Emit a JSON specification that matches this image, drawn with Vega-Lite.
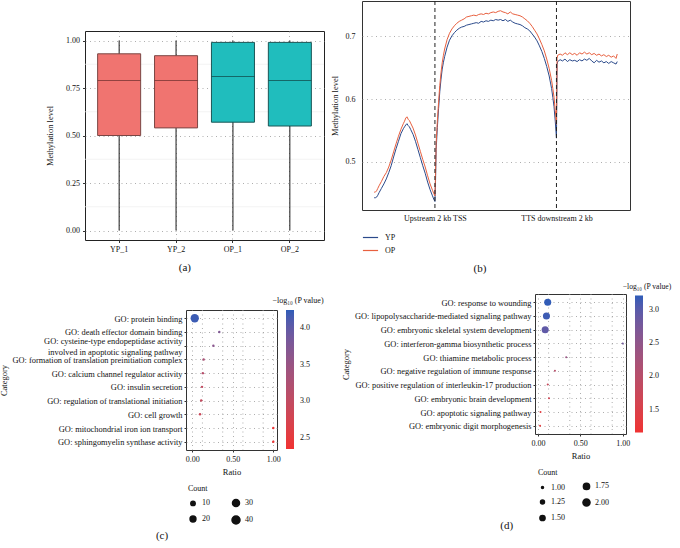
{
  "$schema": "https://vega.github.io/schema/vega-lite/v6.json",
  "padding": {"left": -1, "top": 0, "right": 0, "bottom": 0},
  "background": "white",
  "config": {
    "font": "Liberation Serif",
    "view": {"stroke": null},
    "axis": {"labelFont": "Liberation Serif", "titleFont": "Liberation Serif", "labelFontSize": 8, "titleFontSize": 8.5, "titleFontWeight": "normal", "labelColor": "#111", "titleColor": "#111", "domain": false, "tickColor": "#333", "tickSize": 2.5, "gridColor": "#999", "gridDash": [1, 3.5], "gridWidth": 0.8},
    "legend": {"labelFont": "Liberation Serif", "titleFont": "Liberation Serif", "labelFontSize": 8, "titleFontSize": 8, "titleFontWeight": "normal", "labelColor": "#111", "titleColor": "#111", "gradientStrokeWidth": 0},
    "title": {"font": "Liberation Serif", "fontSize": 11, "fontWeight": "normal", "color": "#111"}
  },
  "datasets": {
    "boxes": [
      {"sample": "YP_1", "group": "YP", "lower": 0, "q1": 0.50, "median": 0.79, "q3": 0.93, "upper": 1.0},
      {"sample": "YP_2", "group": "YP", "lower": 0, "q1": 0.54, "median": 0.79, "q3": 0.92, "upper": 1.0},
      {"sample": "OP_1", "group": "OP", "lower": 0, "q1": 0.57, "median": 0.81, "q3": 0.99, "upper": 1.0},
      {"sample": "OP_2", "group": "OP", "lower": 0, "q1": 0.55, "median": 0.79, "q3": 0.99, "upper": 1.0}
    ],
    "minorRatio": [{"minor": 0.125}, {"minor": 0.375}, {"minor": 0.625}, {"minor": 0.875}],
    "profile": [
      {"pos": 0, "YP": 0.443, "OP": 0.452}, {"pos": 1, "YP": 0.443, "OP": 0.452}, {"pos": 2, "YP": 0.444, "OP": 0.454},
      {"pos": 3, "YP": 0.447, "OP": 0.458}, {"pos": 4, "YP": 0.451, "OP": 0.462}, {"pos": 6, "YP": 0.458, "OP": 0.469},
      {"pos": 8, "YP": 0.465, "OP": 0.477}, {"pos": 10, "YP": 0.473, "OP": 0.483}, {"pos": 12, "YP": 0.483, "OP": 0.492},
      {"pos": 14, "YP": 0.494, "OP": 0.503}, {"pos": 16, "YP": 0.508, "OP": 0.516}, {"pos": 18, "YP": 0.521, "OP": 0.529},
      {"pos": 20, "YP": 0.533, "OP": 0.541}, {"pos": 22, "YP": 0.545, "OP": 0.552}, {"pos": 24, "YP": 0.553, "OP": 0.561},
      {"pos": 25, "YP": 0.556, "OP": 0.565}, {"pos": 26, "YP": 0.559, "OP": 0.570}, {"pos": 27, "YP": 0.561, "OP": 0.572},
      {"pos": 28, "YP": 0.558, "OP": 0.568}, {"pos": 29, "YP": 0.556, "OP": 0.566}, {"pos": 30, "YP": 0.552, "OP": 0.562},
      {"pos": 32, "YP": 0.544, "OP": 0.554}, {"pos": 34, "YP": 0.533, "OP": 0.543}, {"pos": 36, "YP": 0.520, "OP": 0.530},
      {"pos": 38, "YP": 0.507, "OP": 0.517}, {"pos": 40, "YP": 0.494, "OP": 0.504}, {"pos": 42, "YP": 0.482, "OP": 0.492},
      {"pos": 44, "YP": 0.468, "OP": 0.478}, {"pos": 46, "YP": 0.456, "OP": 0.465}, {"pos": 48, "YP": 0.446, "OP": 0.455},
      {"pos": 49, "YP": 0.441, "OP": 0.450}, {"pos": 50, "YP": 0.437, "OP": 0.446},
      {"pos": 50.5, "YP": 0.470, "OP": 0.480}, {"pos": 51, "YP": 0.520, "OP": 0.530}, {"pos": 52, "YP": 0.555, "OP": 0.565},
      {"pos": 53, "YP": 0.585, "OP": 0.595}, {"pos": 54, "YP": 0.612, "OP": 0.622}, {"pos": 55, "YP": 0.632, "OP": 0.642},
      {"pos": 56, "YP": 0.648, "OP": 0.658}, {"pos": 57, "YP": 0.659, "OP": 0.670}, {"pos": 58, "YP": 0.668, "OP": 0.680},
      {"pos": 60, "YP": 0.683, "OP": 0.695}, {"pos": 62, "YP": 0.694, "OP": 0.705}, {"pos": 64, "YP": 0.701, "OP": 0.712},
      {"pos": 66, "YP": 0.706, "OP": 0.717}, {"pos": 68, "YP": 0.710, "OP": 0.721}, {"pos": 70, "YP": 0.713, "OP": 0.724},
      {"pos": 72, "YP": 0.715, "OP": 0.726}, {"pos": 74, "YP": 0.716, "OP": 0.728}, {"pos": 76, "YP": 0.718, "OP": 0.731},
      {"pos": 78, "YP": 0.719, "OP": 0.732}, {"pos": 80, "YP": 0.720, "OP": 0.733}, {"pos": 82, "YP": 0.721, "OP": 0.734},
      {"pos": 84, "YP": 0.722, "OP": 0.733}, {"pos": 86, "YP": 0.721, "OP": 0.735}, {"pos": 88, "YP": 0.724, "OP": 0.736},
      {"pos": 90, "YP": 0.723, "OP": 0.735}, {"pos": 92, "YP": 0.725, "OP": 0.737}, {"pos": 94, "YP": 0.724, "OP": 0.736},
      {"pos": 96, "YP": 0.726, "OP": 0.738}, {"pos": 98, "YP": 0.725, "OP": 0.739}, {"pos": 100, "YP": 0.727, "OP": 0.738},
      {"pos": 102, "YP": 0.726, "OP": 0.740}, {"pos": 104, "YP": 0.727, "OP": 0.741}, {"pos": 106, "YP": 0.725, "OP": 0.739},
      {"pos": 108, "YP": 0.727, "OP": 0.738}, {"pos": 110, "YP": 0.724, "OP": 0.736}, {"pos": 112, "YP": 0.726, "OP": 0.739},
      {"pos": 114, "YP": 0.723, "OP": 0.736}, {"pos": 116, "YP": 0.721, "OP": 0.735}, {"pos": 118, "YP": 0.720, "OP": 0.734},
      {"pos": 120, "YP": 0.719, "OP": 0.733}, {"pos": 122, "YP": 0.717, "OP": 0.731}, {"pos": 124, "YP": 0.714, "OP": 0.728},
      {"pos": 126, "YP": 0.712, "OP": 0.725}, {"pos": 128, "YP": 0.709, "OP": 0.721}, {"pos": 130, "YP": 0.704, "OP": 0.716},
      {"pos": 132, "YP": 0.699, "OP": 0.710}, {"pos": 134, "YP": 0.693, "OP": 0.704}, {"pos": 136, "YP": 0.685, "OP": 0.696},
      {"pos": 138, "YP": 0.676, "OP": 0.687}, {"pos": 140, "YP": 0.665, "OP": 0.677}, {"pos": 142, "YP": 0.652, "OP": 0.664},
      {"pos": 144, "YP": 0.637, "OP": 0.649}, {"pos": 146, "YP": 0.617, "OP": 0.630}, {"pos": 147, "YP": 0.603, "OP": 0.617},
      {"pos": 148, "YP": 0.588, "OP": 0.603}, {"pos": 149, "YP": 0.565, "OP": 0.582}, {"pos": 150, "YP": 0.538, "OP": 0.560},
      {"pos": 150.5, "YP": 0.655, "OP": 0.665}, {"pos": 151, "YP": 0.660, "OP": 0.670}, {"pos": 153, "YP": 0.663, "OP": 0.672},
      {"pos": 155, "YP": 0.661, "OP": 0.670}, {"pos": 157, "YP": 0.664, "OP": 0.674}, {"pos": 159, "YP": 0.660, "OP": 0.671},
      {"pos": 161, "YP": 0.663, "OP": 0.674}, {"pos": 163, "YP": 0.661, "OP": 0.671}, {"pos": 165, "YP": 0.662, "OP": 0.673},
      {"pos": 167, "YP": 0.660, "OP": 0.670}, {"pos": 169, "YP": 0.663, "OP": 0.674}, {"pos": 171, "YP": 0.661, "OP": 0.672},
      {"pos": 173, "YP": 0.664, "OP": 0.675}, {"pos": 175, "YP": 0.662, "OP": 0.672}, {"pos": 177, "YP": 0.665, "OP": 0.674},
      {"pos": 179, "YP": 0.661, "OP": 0.671}, {"pos": 181, "YP": 0.658, "OP": 0.673}, {"pos": 183, "YP": 0.662, "OP": 0.670},
      {"pos": 185, "YP": 0.659, "OP": 0.672}, {"pos": 187, "YP": 0.661, "OP": 0.669}, {"pos": 189, "YP": 0.658, "OP": 0.671},
      {"pos": 191, "YP": 0.660, "OP": 0.668}, {"pos": 193, "YP": 0.657, "OP": 0.670}, {"pos": 195, "YP": 0.660, "OP": 0.667},
      {"pos": 197, "YP": 0.658, "OP": 0.669}, {"pos": 199, "YP": 0.656, "OP": 0.665}, {"pos": 200, "YP": 0.660, "OP": 0.672}
    ],
    "goC": [
      {"term": "GO: protein binding", "ratio": 0.03, "count": 44, "logp": 4.2},
      {"term": "GO: death effector domain binding", "ratio": 0.333, "count": 1, "logp": 3.75},
      {"term": "GO: cysteine-type endopeptidase activity involved in apoptotic signaling pathway", "ratio": 0.26, "count": 1, "logp": 3.65},
      {"term": "GO: formation of translation preinitiation complex", "ratio": 0.14, "count": 1, "logp": 3.3},
      {"term": "GO: calcium channel regulator activity", "ratio": 0.13, "count": 1, "logp": 3.15},
      {"term": "GO: insulin secretion", "ratio": 0.12, "count": 1, "logp": 3.0},
      {"term": "GO: regulation of translational initiation", "ratio": 0.11, "count": 1, "logp": 2.95},
      {"term": "GO: cell growth", "ratio": 0.095, "count": 1, "logp": 2.9},
      {"term": "GO: mitochondrial iron ion transport", "ratio": 1.0, "count": 1, "logp": 2.4},
      {"term": "GO: sphingomyelin synthase activity", "ratio": 1.0, "count": 1, "logp": 2.4}
    ],
    "goD": [
      {"term": "GO: response to wounding", "ratio": 0.115, "count": 2, "logp": 3.2},
      {"term": "GO: lipopolysaccharide-mediated signaling pathway", "ratio": 0.1, "count": 2, "logp": 3.15},
      {"term": "GO: embryonic skeletal system development", "ratio": 0.085, "count": 2, "logp": 2.95},
      {"term": "GO: interferon-gamma biosynthetic process", "ratio": 1.0, "count": 1, "logp": 2.8},
      {"term": "GO: thiamine metabolic process", "ratio": 0.333, "count": 1, "logp": 2.4},
      {"term": "GO: negative regulation of immune response", "ratio": 0.2, "count": 1, "logp": 2.0},
      {"term": "GO: positive regulation of interleukin-17 production", "ratio": 0.115, "count": 1, "logp": 1.75},
      {"term": "GO: embryonic brain development", "ratio": 0.13, "count": 1, "logp": 1.65},
      {"term": "GO: apoptotic signaling pathway", "ratio": 0.03, "count": 1, "logp": 1.35},
      {"term": "GO: embryonic digit morphogenesis", "ratio": 0.025, "count": 1, "logp": 1.3}
    ]
  },
  "spacing": 7,
  "resolve": {"scale": {"color": "independent", "size": "independent", "fill": "independent", "stroke": "independent"}, "legend": {"color": "independent", "size": "independent"}},
  "vconcat": [
    {
      "spacing": 4,
      "resolve": {"scale": {"color": "independent", "size": "independent", "fill": "independent", "stroke": "independent"}, "legend": {"color": "independent", "size": "independent"}},
      "hconcat": [
        {"data": {"values": []}, "mark": "point", "width": 42, "height": 0},
        {
          "spacing": 0,
          "resolve": {"scale": {"color": "independent", "size": "independent", "fill": "independent", "stroke": "independent"}, "legend": {"color": "independent", "size": "independent"}},
          "vconcat": [
            {"data": {"values": []}, "mark": "point", "width": 0, "height": 29},
            {
              "width": 239, "height": 209,
              "view": {"stroke": "#222", "strokeWidth": 1},
              "title": {"text": "(a)", "orient": "bottom", "frame": "bounds", "offset": 8},
              "layer": [
                {"data": {"values": [{"minor": 0.125}, {"minor": 0.375}, {"minor": 0.625}, {"minor": 0.875}]},
                 "mark": {"type": "rule", "color": "#eeeeee", "strokeWidth": 0.7},
                 "encoding": {"y": {"field": "minor", "type": "quantitative", "title": "Methylation level"}}},
                {"data": {"name": "boxes"},
                 "mark": {"type": "rule", "color": "#1a1a1a", "strokeWidth": 1},
                 "encoding": {
                   "x": {"field": "sample", "type": "nominal", "sort": null, "title": null,
                         "scale": {"type": "band", "paddingInner": 0.244, "paddingOuter": 0.222},
                         "axis": {"labelAngle": 0, "grid": true, "tickSize": 2.5, "labelPadding": 3}},
                   "y": {"field": "lower", "type": "quantitative", "title": "Methylation level",
                         "scale": {"domain": [-0.05, 1.05], "nice": false, "zero": false},
                         "axis": {"values": [0, 0.25, 0.5, 0.75, 1], "format": ".2f", "grid": true, "titlePadding": 11, "labelPadding": 3}},
                   "y2": {"field": "upper"}}},
                {"data": {"name": "boxes"},
                 "mark": {"type": "bar", "strokeWidth": 1},
                 "encoding": {
                   "x": {"field": "sample", "type": "nominal", "sort": null, "title": null},
                   "y": {"field": "q1", "type": "quantitative", "title": "Methylation level"},
                   "y2": {"field": "q3"},
                   "fill": {"field": "group", "type": "nominal", "scale": {"domain": ["YP", "OP"], "range": ["#F07470", "#20BDBD"]}, "legend": null},
                   "stroke": {"field": "group", "type": "nominal", "scale": {"domain": ["YP", "OP"], "range": ["#7a4644", "#1b5656"]}, "legend": null}}},
                {"data": {"name": "boxes"},
                 "mark": {"type": "tick", "thickness": 1, "size": 43},
                 "encoding": {
                   "x": {"field": "sample", "type": "nominal", "sort": null, "title": null},
                   "y": {"field": "median", "type": "quantitative", "title": "Methylation level"},
                   "color": {"field": "group", "type": "nominal", "scale": {"domain": ["YP", "OP"], "range": ["#6a2e2c", "#0f4444"]}, "legend": null}}}
              ]
            }
          ]
        },
        {
          "width": 268, "height": 209,
          "view": {"stroke": "#333", "strokeWidth": 1},
          "title": {"text": "(b)", "orient": "bottom", "frame": "bounds", "offset": 8},
          "layer": [
            {"data": {"name": "profile"},
             "transform": [{"fold": ["YP", "OP"], "as": ["group", "level"]}],
             "mark": {"type": "line", "strokeWidth": 1},
             "encoding": {
               "x": {"field": "pos", "type": "quantitative", "title": null,
                     "scale": {"domain": [-10, 210.5], "nice": false, "zero": false},
                     "axis": {"values": [50, 150], "labelExpr": "datum.value == 50 ? 'Upstream 2 kb TSS' : 'TTS downstream 2 kb'", "grid": false, "ticks": false, "labelPadding": 4}},
               "y": {"field": "level", "type": "quantitative", "title": "Methylation level",
                     "scale": {"domain": [0.4235, 0.7565], "nice": false, "zero": false},
                     "axis": {"values": [0.5, 0.6, 0.7], "format": ".1f", "grid": true, "ticks": false, "labelPadding": 7, "titlePadding": 6}},
               "color": {"field": "group", "type": "nominal", "scale": {"domain": ["YP", "OP"], "range": ["#2B4A8B", "#E8603F"]},
                         "legend": {"title": null, "orient": "none", "legendX": 0, "legendY": 228, "symbolType": "stroke", "symbolSize": 230, "symbolStrokeWidth": 1.2, "rowPadding": -2, "labelOffset": 6}}}},
            {"data": {"values": [{"pos": 50}, {"pos": 150}]},
             "mark": {"type": "rule", "strokeDash": [4, 3], "color": "#222", "strokeWidth": 1},
             "encoding": {"x": {"field": "pos", "type": "quantitative"}}}
          ]
        }
      ]
    },
    {
      "spacing": -3,
      "resolve": {"scale": {"color": "independent", "size": "independent", "fill": "independent", "stroke": "independent"}, "legend": {"color": "independent", "size": "independent"}},
      "hconcat": [
        {"data": {"values": []}, "mark": "point", "width": 3, "height": 0},
        {
          "spacing": 0,
          "resolve": {"scale": {"color": "independent", "size": "independent", "fill": "independent", "stroke": "independent"}, "legend": {"color": "independent", "size": "independent"}},
          "vconcat": [
            {"data": {"values": []}, "mark": "point", "width": 0, "height": 2},
            {
              "width": 91, "height": 140,
              "view": {"stroke": "#333", "strokeWidth": 1},
              "title": {"text": "(c)", "orient": "bottom", "frame": "bounds", "offset": 2},
              "layer": [
                {"data": {"name": "minorRatio"},
                 "mark": {"type": "rule", "color": "#999", "strokeWidth": 0.8, "strokeDash": [1, 3.5]},
                 "encoding": {"x": {"field": "minor", "type": "quantitative", "title": "Ratio", "scale": {"domain": [-0.078, 1.046], "nice": false, "zero": false}}}},
                {"data": {"name": "goC"},
                 "mark": {"type": "circle", "opacity": 1},
                 "encoding": {
                   "y": {"field": "term", "type": "nominal", "sort": null, "title": "Category",
                         "scale": {"type": "point", "padding": 0.6},
                         "axis": {"grid": true, "labelLimit": 400, "labelFontSize": 8.4, "tickSize": 2, "labelPadding": 2, "titlePadding": 3, "labelLineHeight": 11,
                                  "labelOffset": {"condition": {"test": "indexof(datum.label, 'cysteine') >= 0", "value": -5.5}, "value": 0},
                                  "labelExpr": "indexof(datum.label, 'cysteine') >= 0 ? ['GO: cysteine-type endopeptidase activity', 'involved in apoptotic signaling pathway'] : datum.label"}},
                   "x": {"field": "ratio", "type": "quantitative", "title": "Ratio",
                         "scale": {"domain": [-0.078, 1.046], "nice": false, "zero": false},
                         "axis": {"values": [0, 0.25, 0.5, 0.75, 1], "format": ".2f", "grid": true, "tickSize": 2, "labelPadding": 3, "titlePadding": 4}},
                   "color": {"field": "logp", "type": "quantitative",
                             "scale": {"domain": [2.35, 4.25], "range": ["#F03232", "#2E5CB8"], "interpolate": "lab"},
                             "legend": {"title": "−log₁₀ (P value)", "titleAnchor": "middle", "orient": "none", "legendX": 86, "legendY": -13, "gradientLength": 139, "gradientThickness": 8, "values": [2.5, 3, 3.5, 4], "format": ".1f", "labelOffset": 6}},
                   "size": {"field": "count", "type": "quantitative",
                            "scale": {"domain": [1, 44], "range": [6, 70]},
                            "legend": {"title": "Count", "orient": "none", "legendX": 2, "legendY": 175, "columns": 2, "values": [10, 20, 30, 40], "columnPadding": 18, "rowPadding": 2, "symbolFillColor": "#111", "symbolStrokeColor": "#111", "symbolType": "circle"}}
                 }}
              ]
            }
          ]
        },
        {"data": {"values": []}, "mark": "point", "width": 18, "height": 0},
        {
          "width": 91, "height": 140,
          "view": {"stroke": "#333", "strokeWidth": 1},
          "title": {"text": "(d)", "orient": "bottom", "frame": "bounds", "offset": -4},
          "layer": [
            {"data": {"name": "minorRatio"},
             "mark": {"type": "rule", "color": "#999", "strokeWidth": 0.8, "strokeDash": [1, 3.5]},
             "encoding": {"x": {"field": "minor", "type": "quantitative", "title": "Ratio", "scale": {"domain": [-0.035, 1.038], "nice": false, "zero": false}}}},
            {"data": {"name": "goD"},
             "mark": {"type": "circle", "opacity": 1},
             "encoding": {
               "y": {"field": "term", "type": "nominal", "sort": null, "title": "Category",
                     "scale": {"type": "point", "padding": 0.6},
                     "axis": {"grid": true, "labelLimit": 400, "labelFontSize": 8.4, "tickSize": 2, "labelPadding": 2, "titlePadding": 4}},
               "x": {"field": "ratio", "type": "quantitative", "title": "Ratio",
                     "scale": {"domain": [-0.035, 1.038], "nice": false, "zero": false},
                     "axis": {"values": [0, 0.25, 0.5, 0.75, 1], "format": ".2f", "grid": true, "tickSize": 2, "labelPadding": 3, "titlePadding": 4}},
               "color": {"field": "logp", "type": "quantitative",
                         "scale": {"domain": [1.16, 3.21], "range": ["#F03232", "#2E5CB8"], "interpolate": "lab"},
                         "legend": {"title": "−log₁₀ (P value)", "titleAnchor": "middle", "titleFontSize": 7.6, "orient": "none", "legendX": 88, "legendY": -11, "gradientLength": 137, "gradientThickness": 8, "values": [1.5, 2, 2.5, 3], "format": ".1f", "labelOffset": 6}},
               "size": {"field": "count", "type": "quantitative",
                        "scale": {"domain": [1, 2], "range": [4, 50]},
                        "legend": {"title": "Count", "orient": "none", "legendX": 3, "legendY": 175, "columns": 2, "values": [1, 1.25, 1.5, 1.75, 2], "format": ".2f", "columnPadding": 14, "rowPadding": 2, "symbolFillColor": "#111", "symbolStrokeColor": "#111", "symbolType": "circle"}}
             }}
          ]
        }
      ]
    }
  ]
}
